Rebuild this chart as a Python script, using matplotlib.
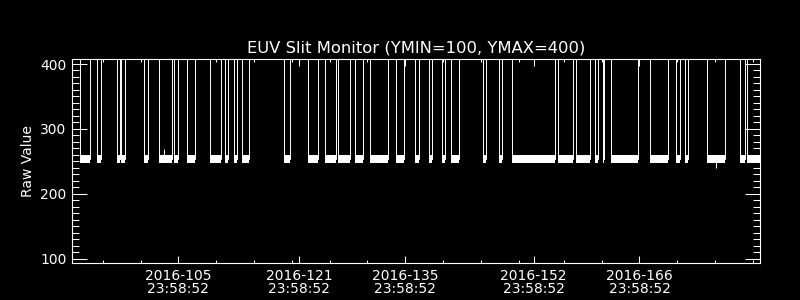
import matplotlib
matplotlib.use('Agg')
import matplotlib.pyplot as plt

# low-state segments (day of year 2016), signal sits in a noisy band near 254
seg_start = [91.95, 94.28, 96.89, 97.46, 100.46, 102.45, 104.43, 106.15, 109.19, 111.18,
             112.41, 113.47, 118.99, 122.20, 124.41, 126.17, 128.42, 130.41, 133.85, 136.36,
             138.17, 139.89, 141.13, 145.32, 147.44, 149.20, 155.28, 157.59, 160.05, 161.11,
             162.22, 167.33, 170.77, 171.96, 174.87, 179.24, 180.26]
seg_end = [93.28, 94.81, 97.33, 97.95, 100.95, 104.21, 104.96, 107.17, 110.61, 111.62,
           112.81, 114.40, 119.82, 123.45, 125.83, 127.76, 129.40, 132.79, 134.83, 136.81,
           138.53, 140.29, 142.10, 145.68, 147.87, 154.85, 157.14, 159.44, 160.50, 161.37,
           165.79, 169.76, 171.30, 172.41, 177.25, 179.90, 182.5]
band_lo = 247.5
band_hi = 259.5
band_mid = 254
high_value = 450  # saturated, off the top of the plot

# isolated spikes inside the low band
spike_day = [103.15, 176.06]
spike_val = [269, 240]

major_days = [105, 121, 135, 152, 166]
major_labels = ['2016-105\n23:58:52', '2016-121\n23:58:52', '2016-135\n23:58:52',
                '2016-152\n23:58:52', '2016-166\n23:58:52']
minor_days = [95, 100, 110, 115, 120, 125, 130, 140, 145, 150, 156, 161, 171, 176, 181]
x_range = (90.93, 181.94)
y_range = (93.4, 407.7)

fig = plt.figure(figsize=(8, 3), dpi=100, facecolor='black')
ax = fig.add_axes([0.09, 0.1233, 0.86, 0.68])
ax.set_facecolor('black')

xs = []
ys = []
for s, e in zip(seg_start, seg_end):
    xs += [s, s, e, e]
    ys += [high_value, band_mid, band_mid, high_value]
    ax.fill_between([s, e], band_lo, band_hi, color='white', linewidth=0)
ax.plot(xs, ys, color='white', linewidth=0.7)
ax.vlines(spike_day, band_mid, spike_val, color='white', linewidth=0.7)

ax.set_xlim(*x_range)
ax.set_ylim(*y_range)

ax.set_xticks(major_days)
ax.set_xticklabels(major_labels, linespacing=0.95)
ax.set_xticks(minor_days, minor=True)
ax.set_yticks([100, 200, 300, 400])
ax.set_yticks(range(100, 410, 10), minor=True)

ax.tick_params(axis='both', which='both', direction='in', colors='white',
               top=True, right=True, width=0.75, labelsize=10)
ax.tick_params(axis='x', which='major', length=5, pad=4)
ax.tick_params(axis='x', which='minor', length=2.2)
ax.tick_params(axis='y', which='major', length=10.5, pad=4)
ax.tick_params(axis='y', which='minor', length=5)
for sp in ax.spines.values():
    sp.set_color('white')
    sp.set_linewidth(0.8)

ax.set_title('EUV Slit Monitor (YMIN=100, YMAX=400)', color='white', fontsize=11.8, pad=5)
ax.set_ylabel('Raw Value', color='white', fontsize=10, labelpad=4)

fig.savefig('out.png', dpi=100, facecolor='black')
